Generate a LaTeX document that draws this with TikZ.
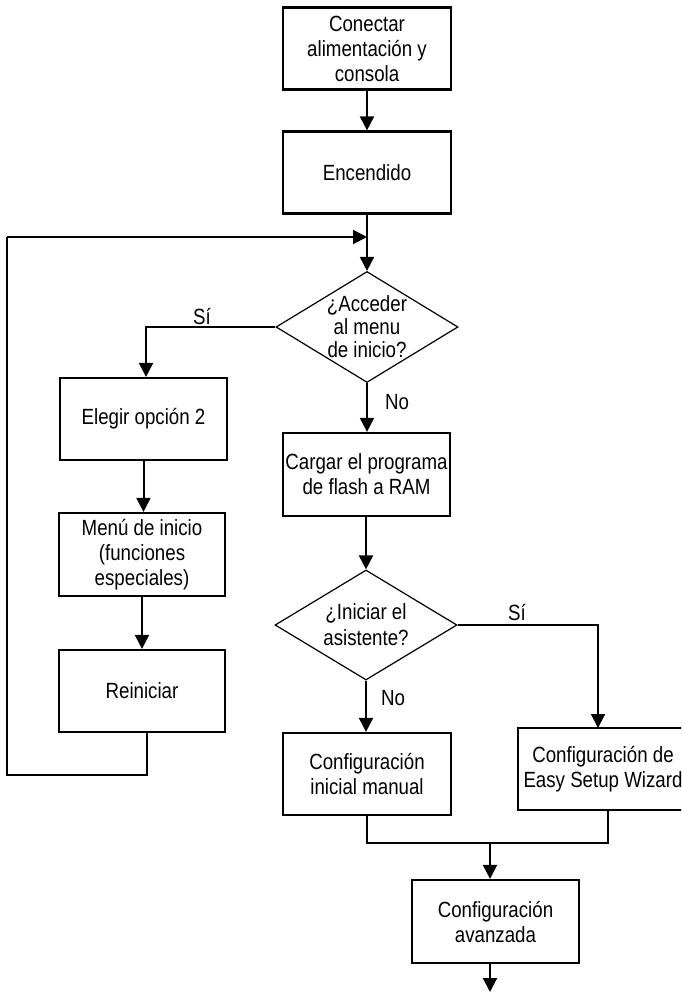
\documentclass[tikz,border=0pt]{standalone}
\usepackage{fontspec}
\setmainfont[FakeStretch=0.85]{Liberation Sans}
\usetikzlibrary{shapes.geometric,arrows.meta}
\tikzset{
  x=1pt, y=-1pt,
  txt/.style={font=\fontsize{22}{25}\selectfont, align=center},
  stepbox/.style={txt, draw, line width=2.2pt, minimum width=168pt, minimum height=82pt, inner sep=0pt},
  decide/.style={draw, diamond, line width=1.2pt, minimum width=182pt, minimum height=111pt, inner sep=0pt},
  conn/.style={line width=2pt},
  arr/.style={conn, -{Triangle[width=14pt,length=14pt]}},
  lbl/.style={txt, inner sep=0pt}
}
\begin{document}
\begin{tikzpicture}
\useasboundingbox (0,0) rectangle (681,992);
\clip (0,0) rectangle (681,992);
% nodes
\node[stepbox] (n1) at (367,48.5) {Conectar\\alimentación y\\consola};
\node[stepbox] (n2) at (367,172.5) {Encendido};
\coordinate (j) at (367,237);
\node[decide, label={[txt,inner sep=0pt,font=\fontsize{22}{23}\selectfont]center:{¿Acceder\\al menu\\de inicio?}}] (d1) at (367,327) {};
\node[stepbox, minimum width=167pt] (el) at (143.5,419) {Elegir opción 2};
\node[stepbox, minimum width=166pt, minimum height=83pt] (mi) at (142,554.5) {Menú de inicio\\(funciones\\especiales)};
\node[stepbox, minimum width=166pt] (re) at (142,691) {Reiniciar};
\node[stepbox, minimum width=167pt, minimum height=83pt] (ca) at (366.5,474.5) {Cargar el programa\\de flash a RAM};
\node[decide, minimum height=110pt, label={[txt,inner sep=0pt,font=\fontsize{22}{26}\selectfont]center:{¿Iniciar el\\asistente?}}] (d2) at (366,625) {};
\node[stepbox] (cm) at (367,774) {Configuración\\inicial manual};
\node[stepbox, minimum width=170pt] (wz) at (603,769) {Configuración de\\Easy Setup Wizard};
\node[stepbox, minimum width=167pt, minimum height=83pt] (av) at (495.5,921.5) {Configuración\\avanzada};
\coordinate (lp) at (147,775);
\coordinate (m) at (490,843);
\coordinate (endp) at (490,992);
% labels
\node[lbl] (s1) at (202,317) {Sí};
\node[lbl] (no1) at (397,402) {No};
\node[lbl] (s2) at (517,613) {Sí};
\node[lbl] (no2) at (393,698) {No};
% connectors
\draw[arr] (n1) -- (n2);
\draw[conn] (n2.south) -- (j);
\draw[arr] (j) -- (d1.north);
\draw[arr] (d1.west) -| (el.north -| 146,0);
\draw[arr] (d1.south) -- (ca.north -| d1.south);
\draw[arr] (el) -- (el.south |- mi.north);
\draw[arr] (mi) -- (mi.south |- re.north);
\draw[conn] (re.south -| lp) -- (lp) -- (7,775) -- (7,237);
\draw[arr] (7,237) -- (j);
\draw[arr] (ca.south -| d2.north) -- (d2.north);
\draw[arr] (d2.east) -| (598,728);
\draw[arr] (d2.south) -- (cm.north -| d2.south);
\draw[conn] (cm.south) |- (m);
\draw[conn] (m) -| (wz.south -| 608,0);
\draw[arr] (m) -- (m |- av.north);
\draw[arr] (av.south -| endp) -- (endp);
\end{tikzpicture}
\end{document}
